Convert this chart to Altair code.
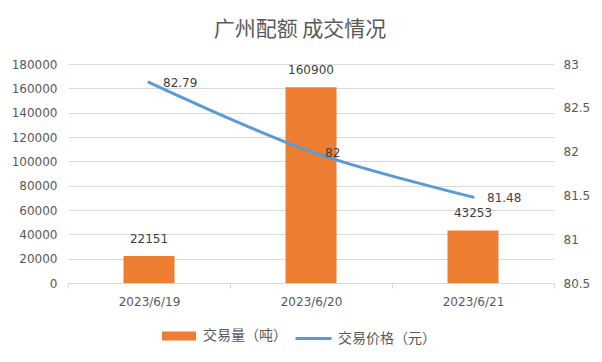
import altair as alt
import pandas as pd

dates = ["2023/6/19", "2023/6/20", "2023/6/21"]
volumes = [22151, 160900, 43253]
prices = [82.79, 82, 81.48]
vol_name = "交易量（吨）"
price_name = "交易价格（元）"
vol_ticks = [0, 20000, 40000, 60000, 80000, 100000, 120000, 140000, 160000, 180000]
price_ticks = [80.5, 81, 81.5, 82, 82.5, 83]

df = pd.DataFrame({"date": dates, "volume": volumes, "price": prices,
                   "s1": [vol_name] * 3, "s2": [price_name] * 3})

ORANGE = "#ED7D31"
BLUE = "#5B9BD5"
GRID = "#D9D9D9"
TXT = "#595959"
NUMFONT = "DejaVu Sans"
CJK = "Noto Sans CJK SC"

x = alt.X("date:N", sort=None,
          scale=alt.Scale(paddingInner=0, paddingOuter=0),
          axis=alt.Axis(title=None, labelAngle=0, tickBand="extent", grid=False,
                        domainColor=GRID, tickColor=GRID, tickSize=5,
                        labelPadding=8, labelColor=TXT, labelFont=NUMFONT,
                        labelFontSize=12))

y_vol = alt.Y("volume:Q",
              scale=alt.Scale(domain=[0, 180000], nice=False),
              axis=alt.Axis(title=None, values=vol_ticks, format="d", domain=False,
                            ticks=False, tickSize=0, labelPadding=11,
                            gridColor=GRID, labelColor=TXT, labelFont=NUMFONT,
                            labelFontSize=12))

y_price = alt.Y("price:Q",
                scale=alt.Scale(domain=[80.5, 83], nice=False, zero=False),
                axis=alt.Axis(title=None, orient="right", values=price_ticks, format="~g",
                              domain=False, ticks=False, tickSize=0, grid=False,
                              labelPadding=9, labelColor=TXT, labelFont=NUMFONT,
                              labelFontSize=12))

bars = alt.Chart(df).mark_bar(size=51).encode(
    x=x, y=y_vol,
    fill=alt.Fill("s1:N", scale=alt.Scale(range=[ORANGE]),
                  legend=alt.Legend(title=None, orient="none", legendX=94, legendY=255,
                                    symbolType="M-1,-0.265L1,-0.265L1,0.265L-1,0.265Z",
                                    symbolSize=1156, symbolStrokeWidth=0,
                                    labelFont=CJK, labelFontSize=14, labelColor=TXT,
                                    labelOffset=7)),
)
bar_labels = alt.Chart(df).mark_text(baseline="bottom", dy=-10, color="#404040",
                                     font=NUMFONT, fontSize=12).encode(
    x=x, y=y_vol, text=alt.Text("volume:Q", format="d"))

line = alt.Chart(df).mark_line(strokeWidth=3, strokeCap="round", interpolate="catmull-rom").encode(
    x=x, y=y_price,
    stroke=alt.Stroke("s2:N", scale=alt.Scale(range=[BLUE]),
                      legend=alt.Legend(title=None, orient="none", legendX=226, legendY=255,
                                        symbolType="stroke", symbolSize=1296,
                                        symbolStrokeWidth=3,
                                        labelFont=CJK, labelFontSize=14, labelColor=TXT,
                                        labelOffset=5)),
)
line_labels = alt.Chart(df).mark_text(align="left", baseline="middle", dx=14, dy=1,
                                      color="#404040", font=NUMFONT, fontSize=12).encode(
    x=x, y=y_price, text=alt.Text("price:Q"))

chart = alt.layer(
    alt.layer(bars, bar_labels),
    alt.layer(line, line_labels),
).resolve_scale(y="independent", fill="independent", stroke="independent").properties(
    width=486, height=219,
    title=alt.TitleParams("广州配额 成交情况", font=CJK, fontSize=21, fontWeight="normal",
                          color=TXT, anchor="middle", dx=-11, offset=18),
    autosize=alt.AutoSizeParams(type="none"),
    padding={"left": 60, "top": 56, "right": 40, "bottom": 71},
    background="white",
).configure_view(strokeWidth=0)

chart.save("out.html", embed_options={"renderer": "svg", "actions": False})
